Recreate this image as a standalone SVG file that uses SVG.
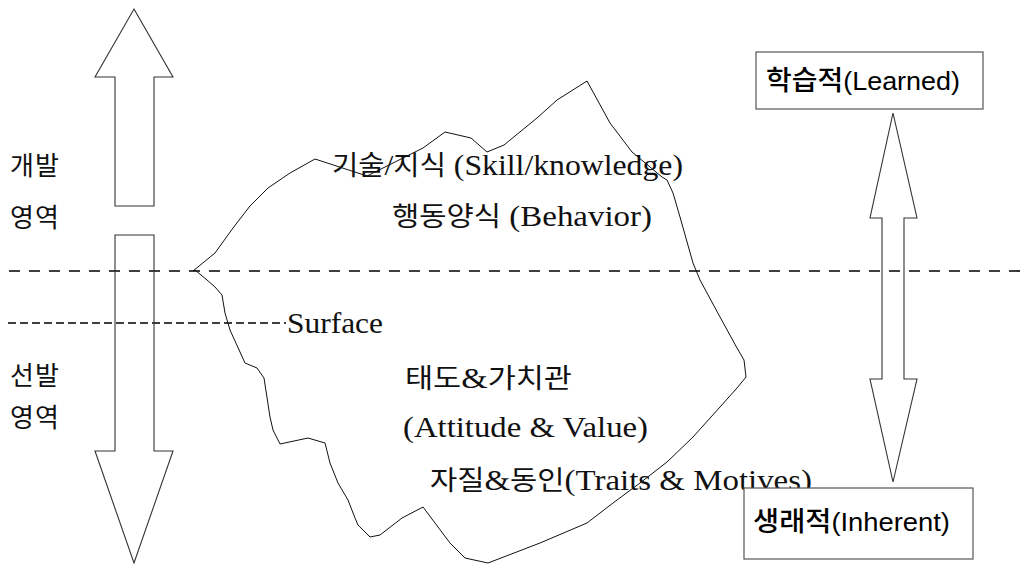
<svg xmlns="http://www.w3.org/2000/svg" width="1029" height="564" viewBox="0 0 1029 564">
<style>
.ln{fill:none;stroke:#111;stroke-width:1}
.dash{fill:none;stroke:#000;stroke-width:1.6}
.arr{fill:none;stroke:#333;stroke-width:1.1}
.box{fill:#fff;stroke:#555;stroke-width:1.2}
.t{font-family:"Liberation Serif","Noto Sans CJK KR",serif;font-size:30px;fill:#111}
.k{font-family:"Noto Sans CJK KR",sans-serif;font-size:27px}
.lab{font-family:"Noto Sans CJK KR",sans-serif;font-size:26px;fill:#111;letter-spacing:1px}
.bt{font-family:"Liberation Sans","Noto Sans CJK KR",sans-serif;font-size:26px;fill:#000}
.bk{font-family:"Noto Sans CJK KR",sans-serif;font-size:27px;font-weight:500}
</style>
<rect width="1029" height="564" fill="#fff"/>
<g id="connectors">
<line class="dash" x1="9" y1="271" x2="1029" y2="271" stroke-dasharray="11 9"/>
<line class="dash" x1="8" y1="323" x2="286" y2="323" stroke-dasharray="8 4"/>
</g>
<g id="iceberg">
<polygon class="ln" points="193,271 215,253 233,228 250,206 268,188 290,173 315,159 367,176 423,148 445,132 471,138 487,152 504,145 537,118 557,100 587,81 610,123 632,152 662,177 667,180 673,193 680,217 693,263 700,280 720,317 737,348 744,360 746,377 737,388 720,407 693,437 667,462 640,483 613,503 587,523 540,543 488,563 465,558 450,543 423,507 402,518 380,535 370,537 358,525 355,518 348,500 338,483 330,463 325,443 308,438 280,444 273,430 270,417 264,378 257,368 245,363 230,330 225,313 222,295 215,287 207,280 195,270"/>
</g>
<g id="arrow-develop">
<polygon class="arr" points="134,9 173,77 154,77 154,206 115,206 115,77 95,77"/>
</g>
<g id="arrow-select">
<polygon class="arr" points="115,235 154,235 154,451 173,451 134,563 95,451 115,451"/>
</g>
<g id="arrow-learned-inherent">
<polygon class="arr" points="893,113 917,218 904,218 904,379 917,379 893,482 870,379 882,379 882,218 870,218"/>
</g>
<g id="labels-left">
<text class="lab" x="10" y="175">개발</text>
<text class="lab" x="10" y="227">영역</text>
<text class="lab" x="10" y="385">선발</text>
<text class="lab" x="10" y="427">영역</text>
</g>
<g id="surface">
<text class="t" x="287" y="333" textLength="96" lengthAdjust="spacingAndGlyphs">Surface</text>
</g>
<g id="skill">
<text class="t" x="332" y="175" textLength="351" lengthAdjust="spacingAndGlyphs"><tspan class="k">기술</tspan>/<tspan class="k">지식</tspan>  (Skill/knowledge)</text>
</g>
<g id="behavior">
<text class="t" x="392" y="226" textLength="260" lengthAdjust="spacingAndGlyphs"><tspan class="k">행동양식</tspan>  (Behavior)</text>
</g>
<g id="attitude">
<text class="t" x="405" y="388" textLength="167" lengthAdjust="spacingAndGlyphs"><tspan class="k">태도</tspan>&amp;<tspan class="k">가치관</tspan></text>
<text class="t" x="403" y="437" textLength="245" lengthAdjust="spacingAndGlyphs">(Attitude  &amp;  Value)</text>
</g>
<g id="traits">
<text class="t" x="430" y="490" textLength="382" lengthAdjust="spacingAndGlyphs"><tspan class="k">자질</tspan>&amp;<tspan class="k">동인</tspan>(Traits  &amp;  Motives)</text>
</g>
<g id="learned">
<rect class="box" x="756" y="52" width="227" height="57"/>
<text class="bt" x="766" y="90" textLength="194" lengthAdjust="spacingAndGlyphs"><tspan class="bk">학습적</tspan>(Learned)</text>
</g>
<g id="inherent">
<rect class="box" x="744" y="488" width="229" height="71"/>
<text class="bt" x="753" y="531" textLength="197" lengthAdjust="spacingAndGlyphs"><tspan class="bk">생래적</tspan>(Inherent)</text>
</g>
</svg>
